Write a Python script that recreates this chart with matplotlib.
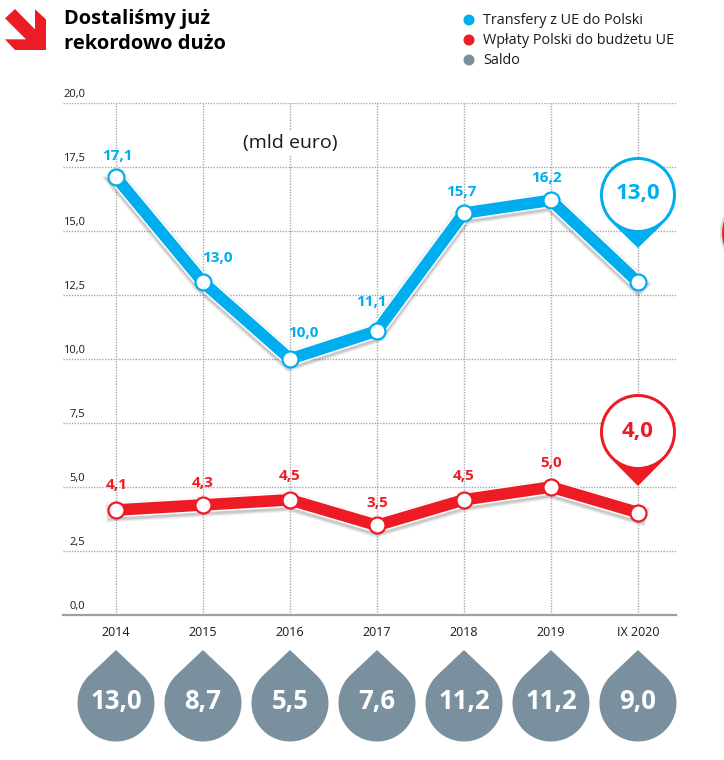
import numpy as np
import matplotlib
matplotlib.use("Agg")
import matplotlib.pyplot as plt
from matplotlib.patches import Circle, Polygon
from matplotlib.transforms import ScaledTranslation

plt.rcParams["font.family"] = ["Open Sans", "DejaVu Sans"]

# data, mld euro
years = ["2014", "2015", "2016", "2017", "2018", "2019", "IX 2020"]
transfers = [17.1, 13.0, 10.0, 11.1, 15.7, 16.2, 13.0]
payments = [4.1, 4.3, 4.5, 3.5, 4.5, 5.0, 4.0]
balance = [13.0, 8.7, 5.5, 7.6, 11.2, 11.2, 9.0]
y_ticks = [0, 2.5, 5, 7.5, 10, 12.5, 15, 17.5, 20]
legend_names = ["Transfery z UE do Polski", "Wpłaty Polski do budżetu UE", "Saldo"]

BLUE = "#00aeef"
RED = "#ed1c24"
GREY = "#7a909e"
W, H = 724, 760

# label offsets in pixels from the point
blue_off = [(1, 21), (14, 24), (13, 26), (-6, 29), (-3, 21), (-5, 22), (0, 0)]
red_off = [(1, 25), (0, 22), (0, 24), (0, 22), (0, 24), (0, 24), (0, 0)]


def pl(v):
    return f"{v:.1f}".replace(".", ",")


def drop(ov, cx, cy, r, d, color, zorder=5):
    # circle with a pointed end, d pixels from the centre (d > 0 up, d < 0 down)
    sign = 1 if d > 0 else -1
    d = abs(d)
    a = np.arccos(r / d)
    t = np.linspace(a, 2 * np.pi - a, 90)
    pts = np.column_stack([cx + r * np.sin(t), cy - sign * r * np.cos(t)])
    pts = np.vstack([[cx, cy - sign * d], pts])
    ov.add_patch(Polygon(pts, closed=True, fc=color, ec="none", zorder=zorder))


fig = plt.figure(figsize=(W / 100, H / 100), dpi=100)
ax = fig.add_axes([63 / W, 1 - 615 / H, (676 - 63) / W, (615 - 103) / H])
ax.set_xlim(-0.609, 6.437)
ax.set_ylim(0, 20)

ax.set_xticks(range(len(years)))
ax.set_xticklabels(years, fontsize=9, color="#1a1a1a")
ax.set_yticks(y_ticks)
ax.set_yticklabels([pl(v) for v in y_ticks], fontsize=8, color="#1a1a1a", va="bottom", ha="right")
ax.tick_params(axis="x", length=0, pad=8)
ax.tick_params(axis="y", length=0, pad=-16)
# lift the value axis labels a little above their gridline
for lab in ax.get_yticklabels():
    lab.set_transform(lab.get_transform() + ScaledTranslation(0, 2 / 72, fig.dpi_scale_trans))
ax.grid(True, color="#a8a8a8", lw=1.0, ls=(0, (1, 1)))
ax.set_axisbelow(True)
for s in ["top", "left", "right"]:
    ax.spines[s].set_visible(False)
ax.spines["bottom"].set_color("#a0a0a0")
ax.spines["bottom"].set_linewidth(1.6)

x = np.arange(len(years))
for values, color, offs in [(transfers, BLUE, blue_off), (payments, RED, red_off)]:
    # soft shadow under the line
    for lw, alpha in [(14.5, 0.05), (13, 0.07), (11.5, 0.1)]:
        ax.plot(x, np.array(values) - 0.08, color="black", lw=lw, alpha=alpha,
                solid_joinstyle="miter", zorder=3)
    ax.plot(x, values, color="white", lw=10.6, solid_joinstyle="miter", zorder=4)
    ax.plot(x, values, color=color, lw=8.4, solid_joinstyle="miter", zorder=5)
    ax.plot(x, values, ls="none", marker="o", ms=11.5, mfc="white", mec=color, mew=1.6, zorder=6)
    for i, v in enumerate(values[:-1]):
        ax.annotate(pl(v), (x[i], v), xytext=offs[i], textcoords="offset pixels",
                    ha="center", va="center", color=color, fontsize=11, fontweight="bold", zorder=7)

ax.text(2, 18.43, "(mld euro)", ha="center", va="center", fontsize=14, color="#1a1a1a",
        bbox=dict(fc="white", ec="none", pad=2), zorder=2)

# overlay in image pixels for title, legend, pins and drops
ov = fig.add_axes([0, 0, 1, 1], facecolor="none")
ov.set_xlim(0, W)
ov.set_ylim(H, 0)
ov.axis("off")


def to_px(i, v):
    px, py = ax.transData.transform((i, v))
    return px, H - py


arrow = np.array([(15, 55), (45, 27), (105, 88), (105, 28), (138, 58), (138, 150),
                  (45, 150), (15, 118), (78, 118)]) / 3
ov.add_patch(Polygon(arrow, closed=True, fc=RED, ec="none"))
ov.text(64, 19, "Dostaliśmy już", fontsize=14.5, fontweight="bold", color="black", va="center")
ov.text(64, 44, "rekordowo dużo", fontsize=14.5, fontweight="bold", color="black", va="center")

for name, color, ly in zip(legend_names, [BLUE, RED, GREY], [20, 40, 60]):
    ov.add_patch(Circle((469, ly), 5.5, fc=color, ec="none"))
    ov.text(483, ly, name, fontsize=10.4, color="#1a1a1a", va="center")

# pins for the last value
last = len(years) - 1
for values, color, cy, d in [(transfers, BLUE, 195, -53), (payments, RED, 432, -54)]:
    cx, _ = to_px(last, values[last])
    drop(ov, cx, cy, 38, d, color)
    ov.add_patch(Circle((cx, cy), 35, fc="white", ec="none", zorder=6))
    ov.text(cx, cy - 1, pl(values[last]), fontsize=16, fontweight="bold", color=color,
            ha="center", va="center", zorder=7)

# balance drops under the axis
for i, v in enumerate(balance):
    cx, _ = to_px(i, 0)
    drop(ov, cx, 703, 38.5, 53, GREY)
    ov.text(cx, 702, pl(v), fontsize=18.5, fontweight="bold", color="white",
            ha="center", va="center", zorder=7)

# piece of the neighbouring graphic at the right edge
ov.add_patch(Circle((761, 233), 40, fc=RED, ec="#dddddd", lw=1.5))

fig.savefig("out.png", dpi=100)
